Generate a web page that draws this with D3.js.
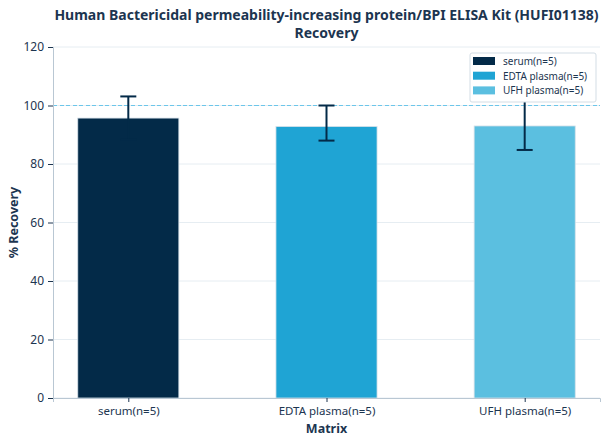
<!DOCTYPE html>
<html>
<head>
<meta charset="utf-8">
<script src="https://cdn.jsdelivr.net/npm/d3@7"></script>
<style>
  body { margin: 0; background: #fff; }
  svg { font-family: "Noto Sans", sans-serif; }
</style>
</head>
<body>
<svg id="chart" width="608" height="444"></svg>
<script>
// data
const categories = ["serum(n=5)", "EDTA plasma(n=5)", "UFH plasma(n=5)"];
const recovery = [95.7, 92.8, 93];
const errUp = [7.4, 7.2, 8.9];
const errDown = [7.4, 4.8, 8.2];
const colors = ["#032a48", "#1fa4d4", "#5bbfe0"];
const yTicks = [0, 20, 40, 60, 80, 100, 120];

const margin = { top: 47, right: 8, bottom: 46, left: 53 };
const W = 608, H = 444;
const width = W - margin.left - margin.right;
const height = H - margin.top - margin.bottom;
const textColor = "#1c3550";
const errColor = "#032a48";

const svg = d3.select("#chart");

const x = d3.scalePoint().domain(categories).range([0, width]).padding(0.38);
const barW = x.step() * 0.51;
const y = d3.scaleLinear().domain([0, 120]).range([height, 0]);

const g = svg.append("g").attr("transform", "translate(" + margin.left + "," + margin.top + ")");

// grid
g.selectAll(".grid").data(yTicks).enter().append("line")
  .attr("x1", 0).attr("x2", width)
  .attr("y1", d => y(d)).attr("y2", d => y(d))
  .attr("stroke", "#e6edf2").attr("stroke-width", 1);

// reference line at 100
g.append("line")
  .attr("x1", 0).attr("x2", width)
  .attr("y1", Math.round(y(100)) + 0.5).attr("y2", Math.round(y(100)) + 0.5)
  .attr("stroke", "#6cc6ea").attr("stroke-width", 1.2)
  .attr("stroke-dasharray", "4,2.5")
  .attr("shape-rendering", "crispEdges");

// bars
g.selectAll(".bar").data(categories).enter().append("rect")
  .attr("x", d => x(d) - barW / 2)
  .attr("y", (d, i) => y(recovery[i]))
  .attr("width", barW)
  .attr("height", (d, i) => height - y(recovery[i]))
  .attr("fill", (d, i) => colors[i])
  .attr("stroke", "#d5e0e8").attr("stroke-width", 0.8);

// error bars
const eb = g.selectAll(".err").data(categories).enter().append("g");
eb.append("line")
  .attr("x1", d => x(d)).attr("x2", d => x(d))
  .attr("y1", (d, i) => y(recovery[i] - errDown[i]))
  .attr("y2", (d, i) => y(recovery[i] + errUp[i]))
  .attr("stroke", errColor).attr("stroke-width", 2);
eb.append("line")
  .attr("x1", d => x(d) - 8).attr("x2", d => x(d) + 8)
  .attr("y1", (d, i) => y(recovery[i] + errUp[i]))
  .attr("y2", (d, i) => y(recovery[i] + errUp[i]))
  .attr("stroke", errColor).attr("stroke-width", 2);
eb.append("line")
  .attr("x1", d => x(d) - 8).attr("x2", d => x(d) + 8)
  .attr("y1", (d, i) => y(recovery[i] - errDown[i]))
  .attr("y2", (d, i) => y(recovery[i] - errDown[i]))
  .attr("stroke", errColor).attr("stroke-width", 2);

// axes
const yAxis = g.append("g").call(d3.axisLeft(y).tickValues(yTicks).tickSize(5).tickPadding(4));
const xAxis = g.append("g").attr("transform", "translate(0," + height + ")")
  .call(d3.axisBottom(x).tickSize(4).tickPadding(5));
[yAxis, xAxis].forEach(a => {
  a.select(".domain").attr("stroke", "#b9c7d3");
  a.selectAll(".tick line").attr("stroke", textColor);
  a.selectAll("text").attr("fill", textColor).style("font-size", "12px")
    .style("font-family", "Noto Sans, sans-serif");
});
xAxis.selectAll("text").style("font-size", "11.5px");

// legend
const leg = g.append("g").attr("transform", "translate(" + (470 - margin.left) + "," + (53 - margin.top) + ")");
leg.append("rect").attr("width", 126).attr("height", 49).attr("rx", 2)
  .attr("fill", "#fff").attr("stroke", "#d3dde5").attr("stroke-width", 1);
categories.forEach((c, i) => {
  const row = leg.append("g").attr("transform", "translate(3," + (4 + i * 14.7) + ")");
  row.append("rect").attr("width", 22).attr("height", 8).attr("fill", colors[i]);
  row.append("text").attr("x", 30).attr("y", 8).text(c)
    .attr("fill", textColor).style("font-size", "10px");
});

// labels
svg.append("text").attr("x", margin.left + width / 2).attr("y", 19.5)
  .attr("text-anchor", "middle").attr("fill", textColor)
  .style("font-size", "14px").style("font-weight", "bold")
  .text("Human Bactericidal permeability-increasing protein/BPI ELISA Kit (HUFI01138)");
svg.append("text").attr("x", margin.left + width / 2).attr("y", 37.5)
  .attr("text-anchor", "middle").attr("fill", textColor)
  .style("font-size", "14px").style("font-weight", "bold")
  .text("Recovery");
svg.append("text").attr("x", margin.left + width / 2).attr("y", 433)
  .attr("text-anchor", "middle").attr("fill", textColor)
  .style("font-size", "12.5px").style("font-weight", "bold")
  .text("Matrix");
svg.append("text")
  .attr("transform", "translate(18," + (margin.top + height / 2) + ") rotate(-90)")
  .attr("text-anchor", "middle").attr("fill", textColor)
  .style("font-size", "12.5px").style("font-weight", "bold")
  .text("% Recovery");
</script>
</body>
</html>
